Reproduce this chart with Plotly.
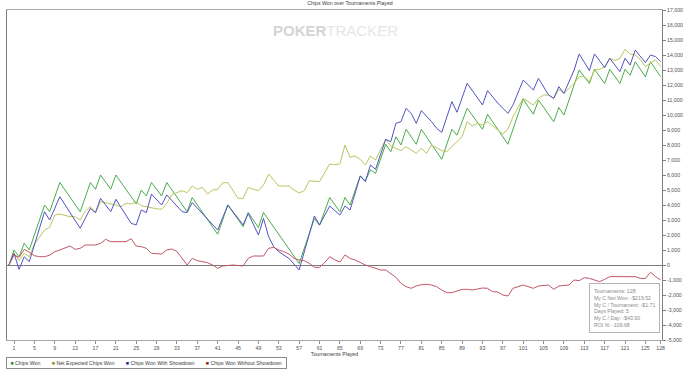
import plotly.graph_objects as go

# ---------------- data ----------------
chart_title = "Chips Won over Tournaments Played"
x_title = "Tournaments Played"
x_tick_vals = [1, 5, 9, 13, 17, 21, 25, 29, 33, 37, 41, 45, 49, 53, 57, 61, 65, 69,
               73, 77, 81, 85, 89, 93, 97, 101, 105, 109, 113, 117, 121, 125, 128]
y_tick_vals = [-5000, -4000, -3000, -2000, -1000, 0, 1000, 2000, 3000, 4000, 5000, 6000,
               7000, 8000, 9000, 10000, 11000, 12000, 13000, 14000, 15000, 16000, 17000]

series_names = ["Chips Won", "Net Expected Chips Won",
                "Chips Won With Showdown", "Chips Won Without Showdown"]

# Chips Won (tournament number, chips)
won_t = [0, 1, 2, 3, 4, 7, 8, 10, 14, 16, 17, 18, 20, 21, 25, 26, 27, 28, 30, 31, 35, 36,
         41, 43, 46, 47, 49, 50, 57, 60, 61, 63, 65, 66, 67, 69, 70, 71, 72, 74, 75, 76,
         77, 78, 80, 81, 85, 87, 88, 90, 93, 94, 98, 101, 103, 104, 107, 108, 109, 112,
         114, 115, 117, 118, 120, 121, 122, 123, 125, 126, 128]
won_v = [0, 1000, 550, 1450, 1000, 4000, 3550, 5500, 3550, 5500, 5050, 6000, 5050, 6000,
         4070, 5000, 4600, 5500, 4600, 5500, 3550, 4500, 2050, 4000, 2550, 3500, 2500,
         3500, 100, 3100, 2650, 4500, 3550, 4500, 4000, 5950, 5600, 6350, 6100, 8050, 7550,
         8550, 8000, 9050, 8050, 9050, 7050, 9050, 8650, 10450, 9050, 10050, 8050, 11050,
         10050, 11000, 9550, 10500, 10000, 13000, 12100, 13050, 12100, 13050, 12100, 13050,
         12650, 13550, 12550, 13550, 12550]

# Net Expected Chips Won
exp_t = [0, 1, 2, 3, 4, 5, 6, 7, 8, 9, 10, 12, 13, 14, 15, 16, 17, 18, 19, 20, 21, 22, 23,
         24, 25, 26, 27, 28, 29, 30, 31, 32, 33, 34, 35, 36, 37, 38, 39, 40, 41, 42, 43, 44,
         45, 46, 47, 48, 49, 50, 51, 52, 53, 55, 56, 57, 58, 59, 61, 63, 64, 65, 66, 67, 68,
         69, 70, 71, 72, 74, 75, 77, 78, 80, 81, 82, 83, 85, 86, 87, 89, 90, 91, 92, 93, 94,
         96, 97, 98, 99, 101, 103, 104, 105, 106, 107, 108, 109, 111, 112, 113, 114, 115,
         116, 117, 118, 119, 120, 121, 122, 123, 124, 125, 126, 127, 128]
exp_v = [0, 778, 289, 778, 556, 1400, 1850, 2333, 2511, 3333, 3400, 3222, 3222, 3000, 3600,
         3889, 3489, 4222, 4150, 4100, 4000, 3889, 4111, 4067, 4222, 3956, 3889, 3778, 3750,
         3711, 4100, 4700, 4822, 4956, 4822, 5267, 5044, 5178, 4733, 5000, 5044, 5489, 5489,
         5000, 4444, 4444, 5178, 5044, 4956, 5333, 6067, 5667, 5267, 5267, 5000, 4800, 4956,
         5622, 5556, 6733, 6680, 6750, 8000, 7178, 7267, 7044, 6667, 7267, 7000, 8378, 7933,
         7622, 7889, 7444, 7778, 7444, 8000, 7622, 7556, 7889, 8556, 9556, 9267, 9444, 9333,
         9556, 9000, 8733, 9044, 9889, 11111, 10667, 11111, 11333, 11333, 11111, 11711,
         11444, 12111, 12556, 12556, 12222, 13000, 13044, 13222, 13778, 13622, 13778, 14378,
         14067, 14000, 13700, 13222, 13489, 13667, 13222]

# Chips Won With Showdown
sd_t = [0, 1, 2, 3, 4, 7, 8, 10, 14, 16, 17, 18, 20, 21, 24, 25, 26, 27, 28, 30, 31, 34, 35,
        36, 41, 43, 46, 47, 49, 50, 51, 52, 53, 55, 57, 60, 61, 63, 65, 66, 67, 69, 70, 71,
        72, 74, 75, 76, 77, 78, 79, 80, 81, 83, 84, 85, 87, 88, 90, 93, 94, 96, 98, 99, 101,
        103, 104, 106, 107, 108, 109, 111, 112, 114, 115, 117, 118, 120, 121, 122, 123, 125,
        126, 127, 128]
sd_v = [0, 780, -290, 550, 220, 3550, 3000, 4550, 2450, 3780, 3490, 4440, 3550, 4380, 2780,
        2670, 3670, 3490, 4730, 4000, 4670, 3560, 3490, 4160, 2330, 4000, 2670, 3440, 2000,
        3110, 1890, 1220, 890, 440, -330, 3270, 2670, 3930, 3330, 3930, 3670, 5930, 5560,
        6670, 6380, 8380, 8220, 9440, 9560, 10440, 10110, 9440, 10290, 9560, 9110, 8840,
        10890, 10180, 12110, 10670, 11620, 10800, 10110, 10670, 12330, 11670, 12440, 11330,
        11110, 11890, 11440, 13000, 14070, 12960, 14070, 13160, 13780, 12890, 13780, 13330,
        14330, 13490, 14000, 13890, 13560]

# Chips Won Without Showdown
nsd_t = [0, 1, 2, 3, 4, 5, 6, 7, 8, 9, 10, 11, 12, 13, 14, 15, 17, 18, 19, 20, 23, 24, 25,
         26, 27, 28, 30, 31, 32, 33, 34, 35, 36, 37, 39, 40, 41, 42, 44, 46, 47, 48, 50, 51,
         52, 53, 54, 55, 56, 57, 58, 59, 60, 61, 62, 63, 64, 65, 66, 67, 68, 69, 70, 71, 72,
         73, 74, 75, 76, 77, 78, 79, 80, 81, 82, 83, 84, 85, 86, 87, 88, 89, 90, 91, 92, 93,
         94, 95, 96, 97, 98, 99, 101, 103, 104, 106, 107, 108, 110, 111, 112, 113, 114, 115,
         116, 117, 118, 123, 124, 125, 126, 127, 128]
nsd_v = [0, 667, 511, 1044, 850, 620, 556, 556, 650, 889, 1000, 1130, 1267, 1044, 1111, 1333,
         1333, 1444, 1711, 1556, 1556, 1756, 1267, 1222, 1111, 778, 733, 1000, 1067, 900, 444,
         0, 444, 289, 156, 0, -222, -67, 0, -67, 444, 600, 600, 1111, 1178, 1000, 889, 733,
         444, 333, 289, 111, -156, -156, 156, 556, 350, 200, 667, 444, 333, 156, 0, -111,
         -222, -333, -333, -556, -822, -1222, -1444, -1556, -1400, -1311, -1289, -1333,
         -1444, -1667, -1844, -1844, -1711, -1622, -1622, -1667, -1600, -1533, -1556, -1778,
         -1800, -2000, -2067, -1556, -1333, -1556, -1400, -1333, -1622, -1400, -1333, -1000,
         -1044, -844, -889, -1000, -1111, -956, -778, -778, -889, -900, -480, -778, -1000]

stats_lines = ["Tournaments: 128", "My C Net Won: -$219.52", "My C / Tournament: -$1.71",
               "Days Played: 5", "My C / Day: -$43.90", "ROI %: -109.68"]

# ---------------- styling ----------------
line_colors = ["#4aac4a", "#b9c65c", "#5353c2", "#c2566a"]
legend_colors = ["#2b8f2b", "#8f8f22", "#23238f", "#8f2323"]
FONT = "Liberation Sans, Arial, sans-serif"
FS = 5.2

fig = go.Figure()
for name, xs, ys, col in zip(series_names,
                             [won_t, exp_t, sd_t, nsd_t],
                             [won_v, exp_v, sd_v, nsd_v],
                             line_colors):
    fig.add_trace(go.Scatter(x=xs, y=ys, mode="lines", name=name,
                             line=dict(color=col, width=1), showlegend=False))

legend_parts = [f"<span style='color:{c}'>■</span>&nbsp;{n}"
                for n, c in zip(series_names, legend_colors)]
legend_text = "&nbsp;" + ("&nbsp;" * 8).join(legend_parts) + "&nbsp;&nbsp;"

fig.update_layout(
    width=700, height=377,
    margin=dict(l=7, r=38, t=10, b=37),
    paper_bgcolor="white", plot_bgcolor="white",
    font=dict(family=FONT, size=FS, color="#505050"),
    title=dict(text=chart_title, x=0.5, xanchor="center", y=1 - 3.5 / 377,
               yanchor="middle", font=dict(size=FS, color="#404040")),
    showlegend=False,
    hovermode=False,
    xaxis=dict(range=[-0.375, 128.26], tickvals=x_tick_vals,
               ticktext=[str(v) for v in x_tick_vals],
               ticks="outside", ticklen=3, tickcolor="#909090", tickwidth=1,
               showline=True, linecolor="#a8a8a8", mirror=True, showgrid=False,
               zeroline=False, automargin=False,
               title=dict(text=x_title, standoff=2, font=dict(size=FS, color="#404040"))),
    yaxis=dict(side="right", range=[-5000, 17000], tickvals=y_tick_vals,
               ticktext=[f"{v:,}" for v in y_tick_vals],
               ticks="outside", ticklen=3, tickcolor="#808080", tickwidth=1,
               showline=True, linecolor="#808080", mirror=True, showgrid=False,
               zeroline=True, zerolinecolor="#7a7a7a", zerolinewidth=1, automargin=False),
    annotations=[
        dict(text="<b><span style='color:#d4d4d4'>POKER</span></b>"
                  "<span style='color:#e6e6e6'>TRACKER</span>",
             xref="paper", yref="paper", x=0.501, y=0.939, xanchor="center",
             yanchor="middle", showarrow=False, font=dict(size=15, family=FONT)),
        dict(text="<br>".join(stats_lines), xref="paper", yref="paper",
             x=0.997, y=0.1727, xanchor="right", yanchor="top", align="left",
             showarrow=False, bgcolor="white", bordercolor="#b4b4b4", borderwidth=1,
             borderpad=4, font=dict(size=5.2, color="#8a8a8a", family=FONT)),
        dict(text=legend_text, xref="paper", yref="paper", x=-0.0015, y=-0.0515,
             xanchor="left", yanchor="top", align="left", showarrow=False,
             bgcolor="white", bordercolor="#8a8a8a", borderwidth=1, borderpad=2,
             font=dict(size=FS, color="#404040", family=FONT)),
    ],
)

fig.write_html("out.html", config={"staticPlot": True, "displayModeBar": False},
               post_script="document.body.style.margin='0';")
